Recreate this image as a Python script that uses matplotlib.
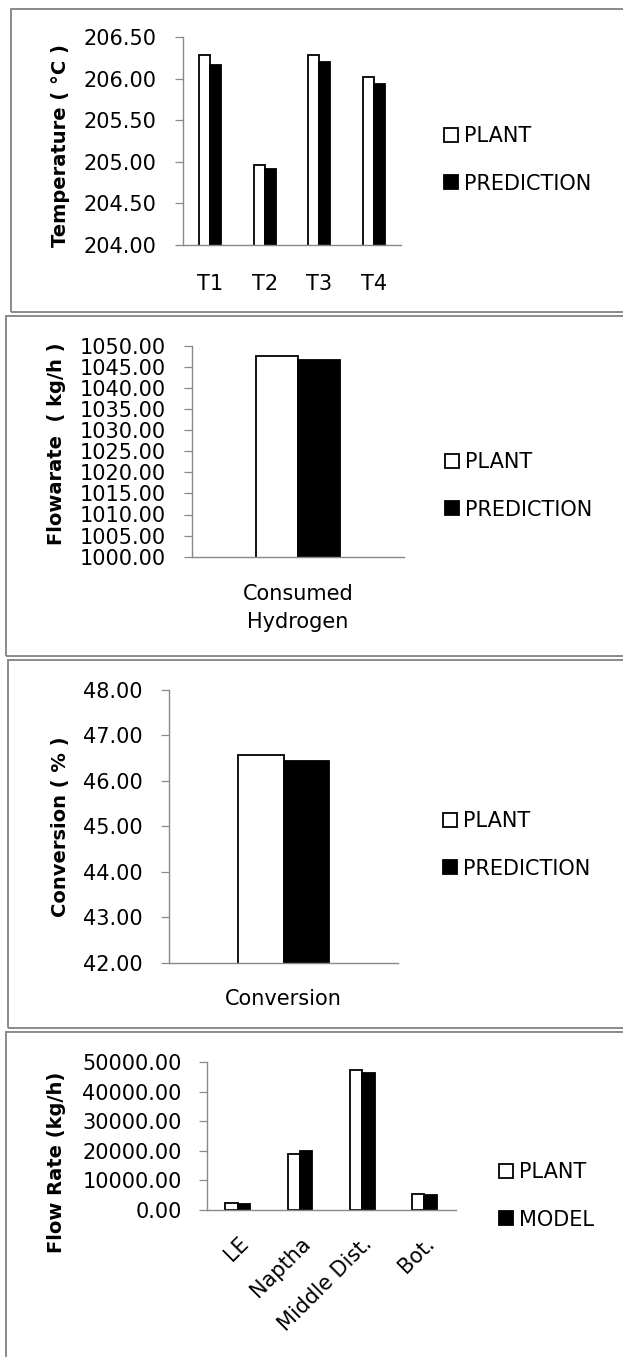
import matplotlib.pyplot as plt
from matplotlib.patches import Patch, Rectangle

# ---------------------------------------------------------------------
# Data
# ---------------------------------------------------------------------
temp_cats = ["T1", "T2", "T3", "T4"]
temp_plant = [206.28, 204.96, 206.28, 206.02]
temp_pred = [206.16, 204.91, 206.20, 205.94]

h2_cats = ["Consumed\nHydrogen"]
h2_plant = [1047.6]
h2_pred = [1046.5]

conv_cats = ["Conversion"]
conv_plant = [46.56]
conv_pred = [46.44]

prod_cats = ["LE", "Naptha", "Middle Dist.", "Bot."]
prod_plant = [2500, 18900, 47400, 5300]
prod_model = [2000, 20000, 46300, 5000]

W, H = 623, 1357
AXIS_GREY = "#898989"
BORDER_GREY = "#8a8a8a"

plt.rcParams["font.family"] = "DejaVu Sans"
plt.rcParams["font.size"] = 15

fig = plt.figure(figsize=(W / 100, H / 100), dpi=100)


def add_axes_px(left, top, right, bottom):
    return fig.add_axes([left / W, 1 - bottom / H, (right - left) / W, (bottom - top) / H])


def fig_xy(x, y):
    return x / W, 1 - y / H


def draw_border(left, top, right, bottom):
    x0, y0 = fig_xy(left, bottom)
    rect = Rectangle((x0, y0), (right - left) / W, (bottom - top) / H,
                     transform=fig.transFigure, fill=False,
                     edgecolor=BORDER_GREY, linewidth=1.4)
    fig.patches.append(rect)


def bar_panel(ax, cats, first, second, names, ylim, step, ylabel,
              label_xy, legend_xy, ypad=14, xpad=20, width=0.2):
    xs = list(range(len(cats)))
    ax.bar([x - width / 2 for x in xs], first, width, color="white",
           edgecolor="black", linewidth=1.3, label=names[0])
    ax.bar([x + width / 2 for x in xs], second, width, color="black",
           edgecolor="black", linewidth=1.3, label=names[1])
    ax.set_xlim(-0.5, len(cats) - 0.5)
    ax.set_ylim(*ylim)
    ticks = []
    v = ylim[0]
    while v <= ylim[1] + 1e-9:
        ticks.append(v)
        v += step
    ax.set_yticks(ticks)
    ax.set_yticklabels(["%.2f" % t for t in ticks])
    ax.set_xticks(xs)
    ax.set_xticklabels(cats)
    for side in ("top", "right"):
        ax.spines[side].set_visible(False)
    for side in ("left", "bottom"):
        ax.spines[side].set_color(AXIS_GREY)
        ax.spines[side].set_linewidth(1.0)
    ax.tick_params(axis="y", direction="out", length=6, width=0.9,
                   color=AXIS_GREY, pad=ypad, labelsize=15)
    ax.tick_params(axis="x", length=0, pad=xpad, labelsize=15)
    ax.set_ylabel(ylabel, fontsize=14, fontweight="bold")
    ax.yaxis.label.set_va("center")
    ax.yaxis.set_label_coords(*fig_xy(*label_xy), transform=fig.transFigure)

    handles = [Patch(facecolor="white", edgecolor="black", linewidth=1.3),
               Patch(facecolor="black", edgecolor="black", linewidth=1.3)]
    ax.legend(handles, names, loc="center left",
              bbox_to_anchor=fig_xy(*legend_xy), bbox_transform=fig.transFigure,
              frameon=False, fontsize=15, handlelength=0.68, handleheight=0.68,
              handletextpad=0.3, labelspacing=1.3, borderpad=0, borderaxespad=0)


# Panel 1 - bed temperatures
draw_border(10.7, 9, 640, 311.7)
ax1 = add_axes_px(183, 37, 401, 245)
bar_panel(ax1, temp_cats, temp_plant, temp_pred, ["PLANT", "PREDICTION"],
          (204.0, 206.5), 0.5, "Temperature ( \u00b0C )",
          (61, 146), (444, 160), ypad=13, xpad=21)

# Panel 2 - hydrogen consumption
draw_border(6, 316, 640, 656)
ax2 = add_axes_px(192, 345.7, 404, 556.7)
bar_panel(ax2, h2_cats, h2_plant, h2_pred, ["PLANT", "PREDICTION"],
          (1000.0, 1050.0), 5.0, "Flowarate  ( kg/h )",
          (57, 444), (445, 486), ypad=13, xpad=20)
for lbl in ax2.get_xticklabels():
    lbl.set_linespacing(1.5)

# Panel 3 - conversion
draw_border(8, 660, 640, 1028)
ax3 = add_axes_px(169, 690, 398, 962.7)
bar_panel(ax3, conv_cats, conv_plant, conv_pred, ["PLANT", "PREDICTION"],
          (42.0, 48.0), 1.0, "Conversion ( % )",
          (61, 827), (443, 845), ypad=13, xpad=19)

# Panel 4 - product flow rates
draw_border(6, 1031.7, 640, 1400)
ax4 = add_axes_px(206.7, 1062.3, 455.5, 1210)
bar_panel(ax4, prod_cats, prod_plant, prod_model, ["PLANT", "MODEL"],
          (0.0, 50000.0), 10000.0, "Flow Rate (kg/h)",
          (57, 1162), (499, 1196), ypad=12, xpad=17)
for lbl in ax4.get_xticklabels():
    lbl.set_rotation(45)
    lbl.set_ha("right")
    lbl.set_va("top")
    lbl.set_rotation_mode("anchor")

fig.savefig("out.png", dpi=100, facecolor="white")
